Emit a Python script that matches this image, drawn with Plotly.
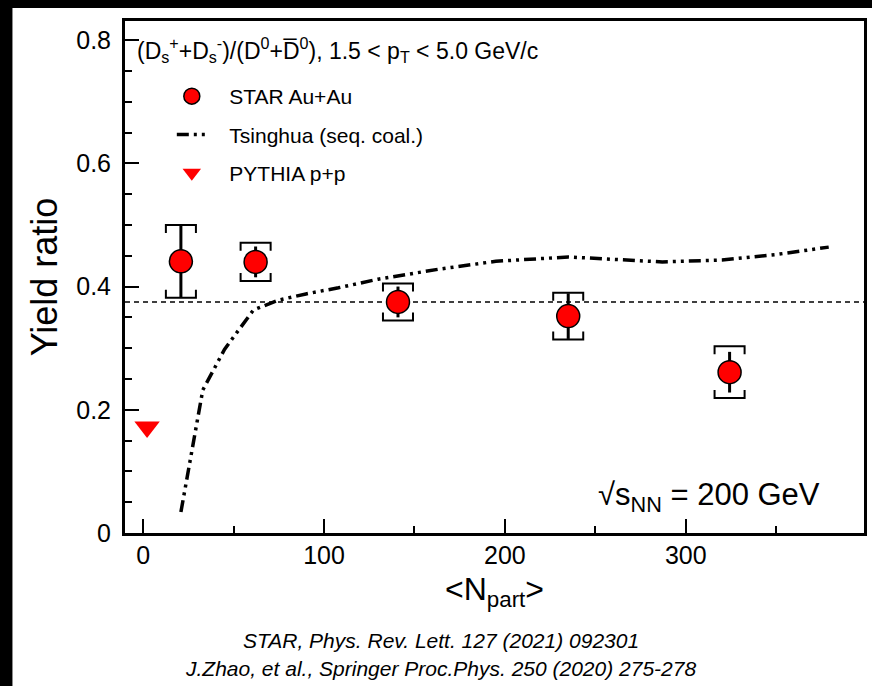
import plotly.graph_objects as go

# ---------------- data ----------------
star_npart = [20.9, 62.2, 140.9, 235.0, 324.2]
star_ratio = [0.441, 0.440, 0.375, 0.352, 0.261]
star_stat = [0.059, 0.025, 0.025, 0.037, 0.033]
star_sys = [0.059, 0.031, 0.030, 0.038, 0.042]

pythia_npart = [2.2]
pythia_ratio = [0.172]

tsinghua_npart = [20.9, 33.0, 45.0, 61.0, 75.0, 90.0, 108.0, 130.0, 163.0, 195.0,
                  235.0, 260.0, 287.0, 320.0, 350.0, 379.0]
tsinghua_ratio = [0.034, 0.232, 0.298, 0.362, 0.378, 0.388, 0.398, 0.412, 0.428, 0.441,
                  0.448, 0.444, 0.440, 0.443, 0.452, 0.464]

pp_reference = 0.375

x_ticks = [0, 100, 200, 300]
y_ticks = [0, 0.2, 0.4, 0.6, 0.8]

FONT = "Liberation Sans, Arial, Helvetica, sans-serif"
PAD = "\u00a0\u00a0\u00a0"

# systematic bracket geometry (in data units)
half_w = 8.3
leg = 0.013
bx, by = [], []
for x, y, s in zip(star_npart, star_ratio, star_sys):
    yt, yb = y + s, y - s
    bx += [x - half_w, x - half_w, x + half_w, x + half_w, None]
    by += [yt - leg, yt, yt, yt - leg, None]
    bx += [x - half_w, x - half_w, x + half_w, x + half_w, None]
    by += [yb + leg, yb, yb, yb + leg, None]

fig = go.Figure()

# white page area over black border (added first so it sits underneath)
fig.add_shape(type="rect", xref="paper", yref="paper",
              x0=-0.1523, x1=1.1, y0=-0.4, y1=1.0254,
              fillcolor="white", line=dict(width=0), layer="below")

fig.add_hline(y=pp_reference, line=dict(color="black", width=1.5, dash="5px,4px"),
              layer="below")

fig.add_trace(go.Scatter(
    x=bx, y=by, mode="lines", line=dict(color="black", width=2),
    showlegend=False, hoverinfo="skip"))

fig.add_trace(go.Scatter(
    x=tsinghua_npart, y=tsinghua_ratio, mode="lines",
    name=PAD + "Tsinghua (seq. coal.)", legendgroup="b", legendrank=2,
    line=dict(color="black", width=3.5, dash="12px,5px,3px,5px,3px,5px")))

fig.add_trace(go.Scatter(
    x=star_npart, y=star_ratio, mode="markers", name=PAD + "STAR Au+Au",
    legendgroup="a", legendrank=1,
    marker=dict(symbol="circle", size=23, color="#ff0000",
                line=dict(color="black", width=1.5)),
    error_y=dict(type="data", array=star_stat, color="black",
                 thickness=3, width=0)))

fig.add_trace(go.Scatter(
    x=pythia_npart, y=pythia_ratio, mode="markers", name=PAD + "PYTHIA p+p",
    legendgroup="c", legendrank=3,
    marker=dict(symbol="triangle-down", size=22, color="#ff0000",
                line=dict(width=0))))

fig.add_annotation(
    xref="paper", yref="paper", x=(135 - 125) / 742, y=(533 - 50) / 512,
    xanchor="left", yanchor="middle", showarrow=False,
    text="(D<sub>s</sub><sup>+</sup>+D<sub>s</sub><sup>-</sup>)/(D<sup>0</sup>+D\u0305<sup>0</sup>), "
         "1.5 &lt; p<sub>T</sub> &lt; 5.0 GeV/c",
    font=dict(family=FONT, size=23, color="black"))

fig.add_annotation(
    xref="paper", yref="paper", x=(598 - 125) / 742, y=(533 - 497) / 512,
    xanchor="left", yanchor="middle", showarrow=False,
    text="\u221As<sub>NN</sub> = 200 GeV",
    font=dict(family=FONT, size=31, color="black"))

fig.add_annotation(
    xref="paper", yref="paper", x=(442 - 125) / 742, y=(533 - 640) / 512,
    xanchor="center", yanchor="middle", showarrow=False,
    text="<i>STAR, Phys. Rev. Lett. 127 (2021) 092301</i>",
    font=dict(family=FONT, size=21, color="black"))

fig.add_annotation(
    xref="paper", yref="paper", x=(442 - 125) / 742, y=(533 - 668) / 512,
    xanchor="center", yanchor="middle", showarrow=False,
    text="<i>J.Zhao, et al., Springer Proc.Phys. 250 (2020) 275-278</i>",
    font=dict(family=FONT, size=21, color="black"))

fig.update_layout(
    width=872, height=686,
    margin=dict(l=125, r=5, t=21, b=153),
    paper_bgcolor="black", plot_bgcolor="white",
    font=dict(family=FONT, color="black"),
    showlegend=True,
    legend=dict(x=(172 - 125) / 742, y=(533 - 76) / 512, xanchor="left", yanchor="top",
                bgcolor="rgba(0,0,0,0)", font=dict(family=FONT, size=21, color="black"),
                traceorder="grouped", tracegroupgap=8),
    xaxis=dict(range=[-10, 398.5], tickvals=x_ticks, ticks="inside", ticklen=14,
               tickwidth=1.5, tickcolor="black", showline=True, linewidth=3,
               linecolor="black", mirror=True, showgrid=False, zeroline=False,
               tickfont=dict(family=FONT, size=25, color="black"),
               ticklabelstandoff=-2,
               minor=dict(dtick=50, tick0=0, ticks="inside", ticklen=7,
                          tickwidth=1.5, tickcolor="black", showgrid=False),
               title=dict(text="&lt;N<sub>part</sub>&gt;", standoff=10,
                          font=dict(family=FONT, size=32, color="black"))),
    yaxis=dict(range=[0, 0.831], tickvals=y_ticks, ticktext=["0", "0.2", "0.4", "0.6", "0.8"],
               ticks="inside", ticklen=14,
               tickwidth=1.5, tickcolor="black", showline=True, linewidth=3,
               linecolor="black", mirror=True, showgrid=False, zeroline=False,
               tickfont=dict(family=FONT, size=25, color="black"),
               ticklabelstandoff=6,
               minor=dict(dtick=0.05, tick0=0, ticks="inside", ticklen=7,
                          tickwidth=1.5, tickcolor="black", showgrid=False),
               title=dict(text="Yield ratio", standoff=8,
                          font=dict(family=FONT, size=36, color="black"))),
)

fig.write_html("out.html")
